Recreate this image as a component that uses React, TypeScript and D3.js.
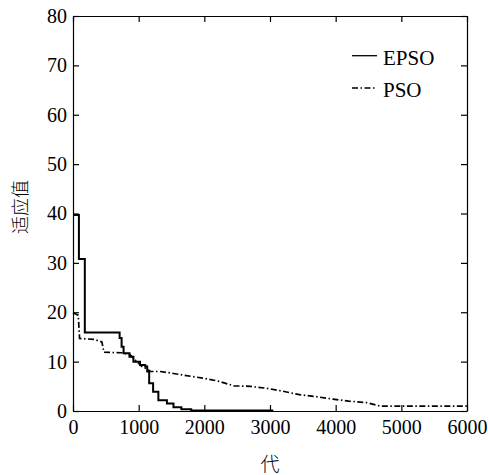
import * as d3 from "d3";
import React, { useEffect, useRef } from "react";

// EPSO : valeurs en escalier (génération -> fitness)
const epsoGen = [0, 90, 180, 710, 740, 770, 860, 920, 1020, 1100, 1130, 1160, 1220, 1300, 1430, 1530, 1650, 1800, 3050];
const epsoVal = [39.7, 30.8, 15.9, 14.8, 13.0, 11.7, 11.0, 10.0, 9.3, 9.0, 8.0, 5.6, 3.9, 2.2, 1.5, 0.75, 0.35, 0.1, 0.1];

// PSO
const psoGen = [0, 80, 100, 320, 440, 470, 740, 870, 950, 1050, 1130, 1180, 1330, 1530, 1830, 2000, 2200, 2450, 2700, 2950, 3200, 3450, 3700, 3960, 4200, 4470, 4680, 5000, 5500, 6000];
const psoVal = [19.9, 19.4, 14.7, 14.5, 14.0, 11.9, 11.8, 11.4, 10.3, 9.0, 8.5, 8.0, 8.0, 7.6, 6.95, 6.6, 6.1, 5.1, 5.0, 4.6, 4.0, 3.3, 2.9, 2.4, 2.0, 1.7, 1.0, 1.0, 1.0, 1.0];

const xTicks = [0, 1000, 2000, 3000, 4000, 5000, 6000];
const yTicks = [0, 10, 20, 30, 40, 50, 60, 70, 80];
const seriesNames = ["EPSO", "PSO"];

const serif = "'Liberation Serif', 'Times New Roman', serif";
const cjk = "'Noto Sans CJK SC', sans-serif";

const App = () => {
  const svgRef = useRef<SVGSVGElement>(null);

  useEffect(() => {
    const width = 489;
    const height = 475;
    const margin = { top: 16, right: 22, bottom: 64, left: 73 };

    const svg = d3.select(svgRef.current);
    svg.selectAll("*").remove();

    const x = d3.scaleLinear().domain([0, 6000]).range([margin.left, width - margin.right]);
    const y = d3.scaleLinear().domain([0, 80]).range([height - margin.bottom, margin.top]);

    const styleAxis = (g: any) => {
      g.attr("font-family", serif).attr("font-size", 20);
      g.selectAll("path").attr("stroke", "#000").attr("stroke-width", 1.2);
      g.selectAll("line").attr("stroke", "#000").attr("stroke-width", 1.2);
      g.selectAll("text")
        .style("font-family", serif)
        .style("font-size", "20px")
        .attr("fill", "#000");
    };

    // axes (ticks vers l'intérieur)
    svg.append("g")
      .attr("transform", `translate(0,${y(0)})`)
      .call(d3.axisBottom(x).tickValues(xTicks).tickFormat(d3.format("d")).tickSizeInner(-6).tickSizeOuter(0).tickPadding(9))
      .call(styleAxis);
    svg.append("g")
      .attr("transform", `translate(0,${y(80)})`)
      .call(d3.axisTop(x).tickValues(xTicks).tickFormat(() => "").tickSizeInner(-6).tickSizeOuter(0))
      .call(styleAxis);
    svg.append("g")
      .attr("transform", `translate(${x(0)},0)`)
      .call(d3.axisLeft(y).tickValues(yTicks).tickFormat(d3.format("d")).tickSizeInner(-6).tickSizeOuter(0).tickPadding(6))
      .call(styleAxis);
    svg.append("g")
      .attr("transform", `translate(${x(6000)},0)`)
      .call(d3.axisRight(y).tickValues(yTicks).tickFormat(() => "").tickSizeInner(-6).tickSizeOuter(0))
      .call(styleAxis);

    const epso = epsoGen.map((g, i) => ({ g, v: epsoVal[i] }));
    const pso = psoGen.map((g, i) => ({ g, v: psoVal[i] }));

    const stepLine = d3.line<any>().x((d) => x(d.g)).y((d) => y(d.v)).curve(d3.curveStepAfter);
    const line = d3.line<any>().x((d) => x(d.g)).y((d) => y(d.v));

    svg.append("path")
      .datum(pso)
      .attr("fill", "none")
      .attr("stroke", "#000")
      .attr("stroke-width", 1.7)
      .attr("stroke-dasharray", "6,2.5,1.5,2.5")
      .attr("d", line);

    svg.append("path")
      .datum(epso)
      .attr("fill", "none")
      .attr("stroke", "#000")
      .attr("stroke-width", 2)
      .attr("d", stepLine);

    // légende
    const legend = svg.append("g");
    [55.7, 88].forEach((ly, i) => {
      legend.append("line")
        .attr("x1", 352).attr("x2", 377).attr("y1", ly).attr("y2", ly)
        .attr("stroke", "#000").attr("stroke-width", 1.3)
        .attr("stroke-dasharray", i === 1 ? "6,2.5,1.5,2.5" : null);
      legend.append("text")
        .attr("x", 383).attr("y", ly + 9)
        .attr("fill", "#000")
        .style("font-family", serif).style("font-size", "21px")
        .text(seriesNames[i]);
    });

    // titres des axes
    svg.append("text")
      .attr("x", x(3000)).attr("y", 471)
      .attr("text-anchor", "middle")
      .attr("fill", "#000")
      .style("font-family", cjk).style("font-size", "19px").style("font-weight", 300)
      .text("代");
    svg.append("text")
      .attr("transform", `translate(27,207) rotate(-90)`)
      .attr("text-anchor", "middle")
      .attr("fill", "#000")
      .style("font-family", cjk).style("font-size", "18px").style("font-weight", 300)
      .text("适应值");
  }, []);

  return (
    <svg
      ref={svgRef}
      width={489}
      height={475}
      style={{ position: "absolute", left: 0, top: 0, background: "#fff" }}
    ></svg>
  );
};

export default App;
